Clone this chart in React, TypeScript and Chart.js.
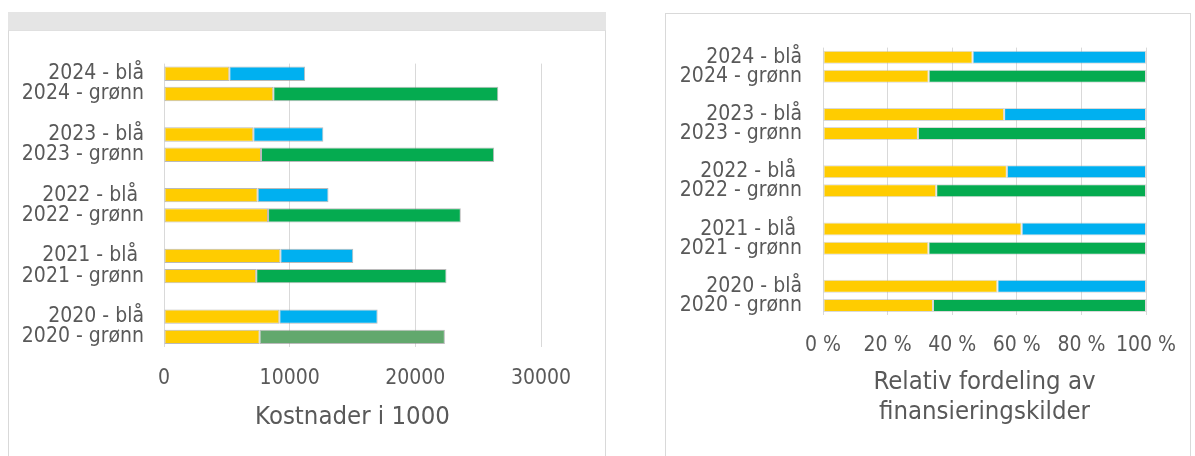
import React, { useEffect, useRef } from 'react';
import { Chart, registerables } from 'chart.js';

Chart.register(...registerables);

// ---------- data ----------
const categories = [
  '2024 - blå', '2024 - grønn', '',
  '2023 - blå', '2023 - grønn', '',
  '2022 - blå ', '2022 - grønn', '',
  '2021 - blå ', '2021 - grønn', '',
  '2020 - blå', '2020 - grønn',
];
// yellow share (kostnader i 1000)
const yellowPart = [5200, 8700, null, 7110, 7720, null, 7450, 8280, null, 9260, 7340, null, 9180, 7610];
// blue / green share (kostnader i 1000)
const otherPart = [6030, 17900, null, 5570, 18550, null, 5640, 15340, null, 5800, 15140, null, 7820, 14740];
const absTicks = [0, 10000, 20000, 30000];
const pctTicks = [0, 20, 40, 60, 80, 100];
const absTitle = 'Kostnader i 1000';
const pctTitle = ['Relativ fordeling av', 'finansieringskilder'];

// ---------- styles ----------
const YELLOW = '#FFCC00';
const BLUE = '#00B0F0';
const GREEN = '#05AB50';
const MUTED_GREEN = '#62A86D';
const TEXT = '#595959';
const GRID = '#D9D9D9';
const FONT = "'DejaVu Sans Condensed', 'Open Sans', sans-serif";

const otherColorsLeft = categories.map((c, i) =>
  c.includes('blå') ? BLUE : i === categories.length - 1 ? MUTED_GREEN : GREEN
);
const otherColorsRight = categories.map((c) => (c.includes('blå') ? BLUE : GREEN));

const pctYellow = yellowPart.map((y, i) =>
  y == null ? null : (y / (y + (otherPart[i] as number))) * 100
);
const pctOther = otherPart.map((o, i) =>
  o == null ? null : (o / ((yellowPart[i] as number) + o)) * 100
);

type Cfg = {
  yellow: (number | null)[];
  other: (number | null)[];
  otherColors: string[];
  ticks: number[];
  max: number;
  fmt: (v: number) => string;
  title: string | string[];
  padRight: number;
  padTop: number;
  yWidth: number;
  xHeight: number;
  tickLineHeight: number;
  tickPadY: number;
  titlePadBottom: number;
  catPct: number;
  border: string;
};

function BarChart({ cfg, width, height }: { cfg: Cfg; width: number; height: number }) {
  const ref = useRef<HTMLCanvasElement | null>(null);
  useEffect(() => {
    if (!ref.current) return;
    const chart = new Chart(ref.current, {
      type: 'bar',
      data: {
        labels: categories,
        datasets: [
          {
            data: cfg.yellow,
            backgroundColor: YELLOW,
            borderColor: cfg.border,
            borderWidth: 1,
            borderSkipped: false,
          },
          {
            data: cfg.other,
            backgroundColor: cfg.otherColors,
            borderColor: cfg.border,
            borderWidth: 1,
            borderSkipped: false,
          },
        ],
      },
      options: {
        indexAxis: 'y',
        animation: false,
        responsive: false,
        maintainAspectRatio: false,
        layout: { padding: { top: cfg.padTop, right: cfg.padRight, bottom: 0, left: 0 } },
        datasets: { bar: { categoryPercentage: cfg.catPct, barPercentage: 1 } },
        plugins: { legend: { display: false }, tooltip: { enabled: false } },
        scales: {
          x: {
            stacked: true,
            min: 0,
            max: cfg.max,
            afterBuildTicks: (s: any) => {
              s.ticks = cfg.ticks.map((v) => ({ value: v }));
            },
            ticks: {
              color: TEXT,
              font: { family: FONT, size: 21, lineHeight: cfg.tickLineHeight },
              padding: 0,
              maxRotation: 0,
              callback: (v: any) => cfg.fmt(Number(v)),
            },
            grid: { color: GRID, lineWidth: 1, drawTicks: false },
            border: { display: false },
            title: {
              display: true,
              text: cfg.title,
              color: TEXT,
              font: { family: FONT, size: 25.5, lineHeight: 1.2 },
              padding: { top: 0, bottom: cfg.titlePadBottom },
            },
            afterFit: (s: any) => {
              s.height = cfg.xHeight;
            },
          },
          y: {
            stacked: true,
            grid: { display: false, drawTicks: false },
            border: { display: false },
            ticks: {
              color: TEXT,
              font: { family: FONT, size: 21 },
              padding: cfg.tickPadY,
              autoSkip: false,
            },
            afterFit: (s: any) => {
              s.width = cfg.yWidth;
            },
          },
        },
      },
    } as any);
    return () => chart.destroy();
  }, [cfg]);
  return <canvas ref={ref} width={width} height={height} style={{ display: 'block', width, height }} />;
}

const leftCfg: Cfg = {
  yellow: yellowPart,
  other: otherPart,
  otherColors: otherColorsLeft,
  ticks: absTicks,
  max: 30000,
  fmt: (v) => String(v),
  title: absTitle,
  padRight: 64,
  padTop: 26.5,
  yWidth: 155,
  xHeight: 109,
  tickLineHeight: 64 / 21,
  tickPadY: 20,
  titlePadBottom: 23.7,
  catPct: 0.71,
  border: 'rgba(140,140,140,0.6)',
};

const rightCfg: Cfg = {
  yellow: pctYellow,
  other: pctOther,
  otherColors: otherColorsRight,
  ticks: pctTicks,
  max: 100,
  fmt: (v) => `${v} %`,
  title: pctTitle,
  padRight: 43,
  padTop: 29.3,
  yWidth: 157,
  xHeight: 141,
  tickLineHeight: 61.4 / 21,
  tickPadY: 21,
  titlePadBottom: 28,
  catPct: 0.68,
  border: 'rgba(170,170,170,0.45)',
};

export default function App() {
  return (
    <div style={{ position: 'absolute', left: 0, top: 0, width: 1195, height: 456, overflow: 'hidden', background: '#fff' }}>
      {/* left panel */}
      <div style={{ position: 'absolute', left: 8, top: 12, width: 598, height: 19, background: '#E5E5E5' }} />
      <div
        style={{
          position: 'absolute',
          left: 8,
          top: 30,
          width: 596,
          height: 440,
          border: '1px solid #D9D9D9',
          borderTop: '1px solid #E0E0E0',
        }}
      />
      <div style={{ position: 'absolute', left: 9, top: 31 }}>
        <BarChart cfg={leftCfg} width={596} height={425} />
      </div>
      {/* right panel */}
      <div
        style={{
          position: 'absolute',
          left: 665,
          top: 13,
          width: 524,
          height: 460,
          border: '1px solid #D9D9D9',
        }}
      />
      <div style={{ position: 'absolute', left: 666, top: 14 }}>
        <BarChart cfg={rightCfg} width={523} height={442} />
      </div>
    </div>
  );
}
